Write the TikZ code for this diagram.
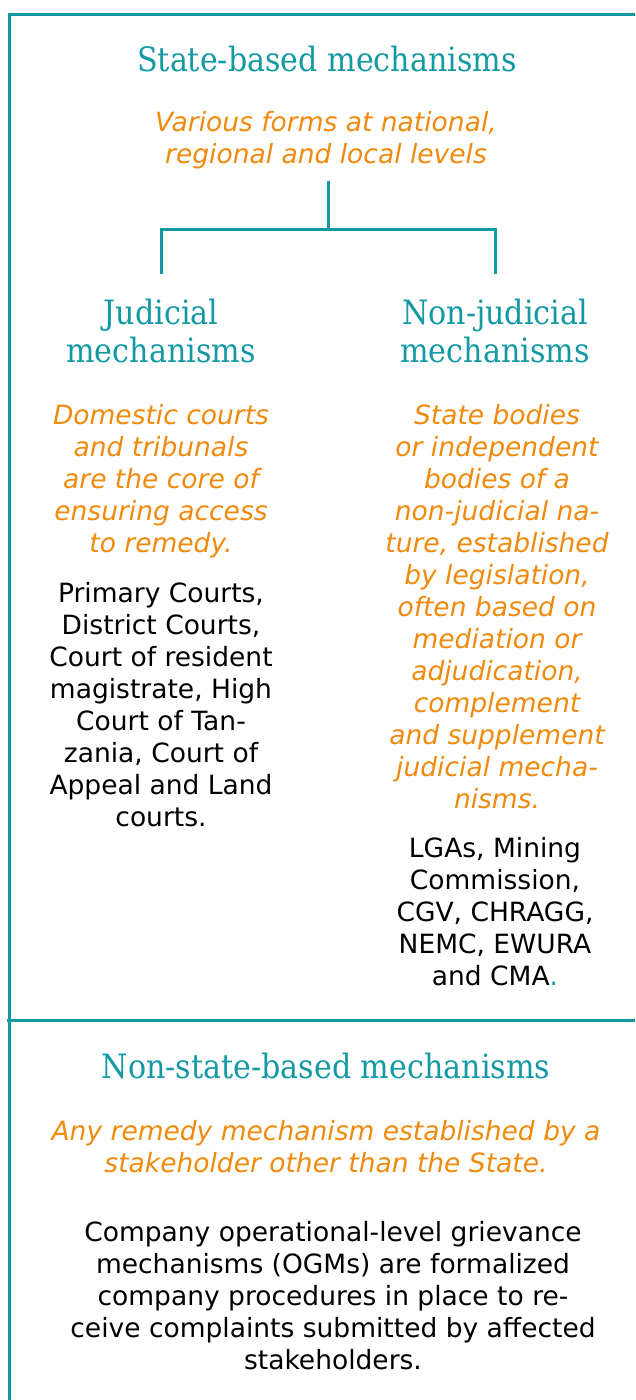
\documentclass[tikz,border=0pt]{standalone}
\usepackage{fontspec}
\newfontfamily\headfont{DejaVu Serif Condensed}
\newfontfamily\bodyfont{DejaVu Sans}
\definecolor{teal1}{HTML}{1399A4}
\definecolor{orange1}{HTML}{F08A0C}
\tikzset{
  frameline/.style={draw=teal1, line width=3pt},
  headtxt/.style={anchor=base, align=center, inner sep=0pt, text=teal1, font=\headfont\fontsize{33.5}{38}\selectfont},
  oratxt/.style={anchor=base, align=center, inner sep=0pt, text=orange1, font=\bodyfont\itshape\fontsize{26.5}{32}\selectfont},
  blktxt/.style={anchor=base, align=center, inner sep=0pt, text=black, font=\bodyfont\fontsize{26.5}{32}\selectfont},
}
\begin{document}
\begin{tikzpicture}[x=1pt,y=-1pt]
\useasboundingbox (0,0) rectangle (635,1400);
\coordinate (tl) at (9,14);
\coordinate (tr) at (635,14);
\coordinate (bl) at (9,1400);
\coordinate (dl) at (7,1020);
\coordinate (dr) at (635,1020);
\draw[frameline] (tr) -- (tl) -- (bl);
\draw[frameline] (dl) -- (dr);

% last-line baselines
\node[headtxt] (state) at (327,71) {State-based mechanisms};
\node[oratxt] (various) at (326,163) {Various forms at national,\\regional and local levels};

\coordinate (c0) at (328,181);
\coordinate (c1) at (328,229);
\coordinate (cl) at (161,229);
\coordinate (cr) at (495,229);
\coordinate (cl2) at (161,274);
\coordinate (cr2) at (495,274);
\draw[frameline] (c0) -- (c1);
\draw[frameline] (cl2) -- (cl) -- (cr) -- (cr2);

\node[headtxt] (jud) at (161,362) {Judicial\\mechanisms};
\node[headtxt] (nonjud) at (495,362) {Non-judicial\\mechanisms};

\node[oratxt] (judo) at (161,552) {Domestic courts\\and tribunals\\are the core of\\ensuring access\\to remedy.};
\node[blktxt] (judb) at (161,826) {Primary Courts,\\District Courts,\\Court of resident\\magistrate, High\\Court of Tan-\\zania, Court of\\Appeal and Land\\courts.};

\node[oratxt] (nonjudo) at (497,808) {State bodies\\or independent\\bodies of a\\non-judicial na-\\ture, established\\by legislation,\\often based on\\mediation or\\adjudication,\\complement\\and supplement\\judicial mecha-\\nisms.};
\node[blktxt] (nonjudb) at (495,985) {LGAs, Mining\\Commission,\\CGV, CHRAGG,\\NEMC, EWURA\\and CMA\textcolor{teal1}{.}};

\node[headtxt] (nonstate) at (326,1078) {Non-state-based mechanisms};
\node[oratxt] (nonstateo) at (326,1172) {Any remedy mechanism established by a\\stakeholder other than the State.};
\node[blktxt] (nonstateb) at (333,1369) {Company operational-level grievance\\mechanisms (OGMs) are formalized\\company procedures in place to re-\\ceive complaints submitted by affected\\stakeholders.};
\end{tikzpicture}
\end{document}
